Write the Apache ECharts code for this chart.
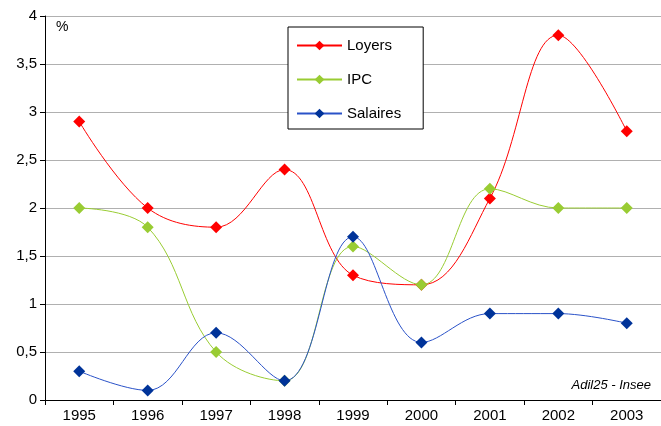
<!DOCTYPE html>
<html><head><meta charset="utf-8">
<script src="https://cdn.jsdelivr.net/npm/echarts@6/dist/echarts.min.js"></script>
<style>html,body{margin:0;padding:0;background:#fff}#c{width:661px;height:426px}</style>
</head><body><div id="c"></div>
<script>
const years = ['1995','1996','1997','1998','1999','2000','2001','2002','2003'];
const loyers = [2.9, 2.0, 1.8, 2.4, 1.3, 1.2, 2.1, 3.8, 2.8];
const ipc = [2.0, 1.8, 0.5, 0.2, 1.6, 1.2, 2.2, 2.0, 2.0];
const salaires = [0.3, 0.1, 0.7, 0.2, 1.7, 0.6, 0.9, 0.9, 0.8];
const font = 'Liberation Sans, Arial, sans-serif';
const chart = echarts.init(document.getElementById('c'), null, {renderer:'canvas'});
function ser(name, data, lineColor, symColor){
  return {name, type:'line', data, smooth:0.38, symbol:'diamond', symbolSize:12,
    lineStyle:{color:lineColor, width:1}, itemStyle:{color:symColor}, emphasis:{disabled:true}};
}
chart.setOption({
  animation:false,
  textStyle:{fontFamily:font},
  grid:{left:45, right:0, top:16, bottom:26, containLabel:false},
  legend:{orient:'vertical', left:288, top:27, padding:[11,22,8,8], itemGap:19,
    itemWidth:45, itemHeight:12, borderColor:'#000', borderWidth:1, backgroundColor:'#fff',
    textStyle:{fontSize:15, color:'#000', fontFamily:font},
    data:['Loyers','IPC','Salaires']},
  xAxis:{type:'category', data:years, boundaryGap:true,
    axisLine:{lineStyle:{color:'#000', width:1}},
    axisTick:{show:true, inside:false, length:5, lineStyle:{color:'#000'}},
    axisLabel:{fontSize:15, color:'#000', margin:8, fontFamily:font}},
  yAxis:{type:'value', min:0, max:4, interval:0.5,
    axisLine:{show:true, lineStyle:{color:'#000', width:1}},
    axisTick:{show:true, length:5, lineStyle:{color:'#000'}},
    splitLine:{show:true, lineStyle:{color:'#b0b0b0', width:1}},
    axisLabel:{fontSize:15, color:'#000', margin:8, fontFamily:font,
      formatter:v=>String(v).replace('.',',')}},
  graphic:[
    {type:'text', left:56, top:20, style:{text:'%', fontSize:14, fill:'#000', fontFamily:font}},
    {type:'text', right:10, top:379, style:{text:'Adil25 - Insee', fontSize:13, fontStyle:'italic', fill:'#000', fontFamily:font}}
  ],
  series:[
    ser('Loyers', loyers, '#ff0000', '#ff0000'),
    ser('IPC', ipc, '#99cc33', '#99cc33'),
    ser('Salaires', salaires, '#2a52c8', '#003399')
  ]
});
</script></body></html>
